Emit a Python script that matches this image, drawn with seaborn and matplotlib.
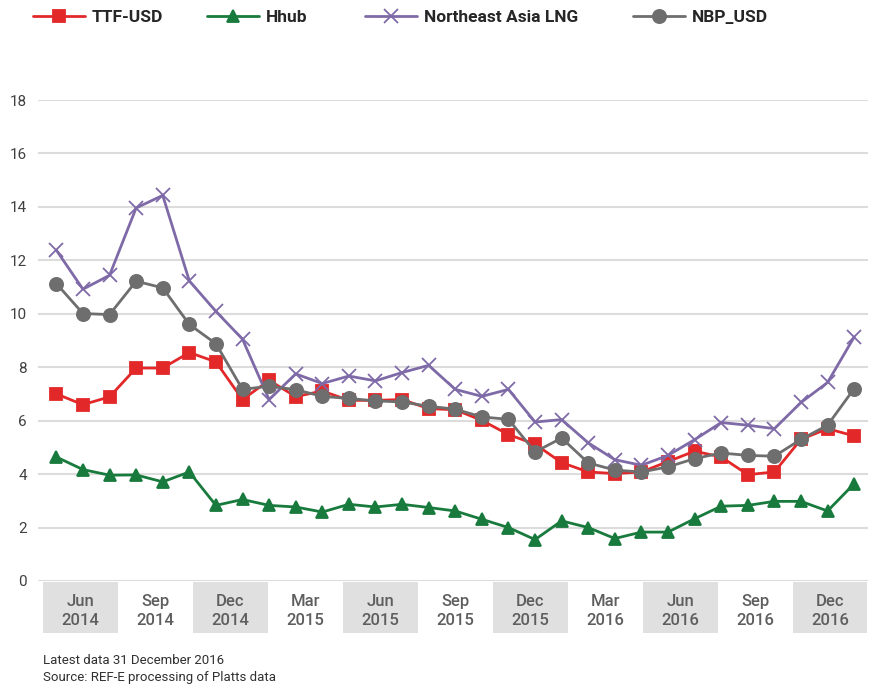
import pandas as pd
import seaborn as sns
import matplotlib.pyplot as plt
from matplotlib.patches import Rectangle
from matplotlib.transforms import blended_transform_factory

months = pd.date_range("2014-06-01", "2016-12-01", freq="MS")
ttf = [7.0, 6.6, 6.89, 7.97, 7.97, 8.55, 8.2, 6.79, 7.51, 6.9, 7.11, 6.76, 6.76, 6.79, 6.45,
       6.41, 6.01, 5.48, 5.12, 4.43, 4.08, 4.02, 4.08, 4.47, 4.86, 4.64, 3.98, 4.08, 5.3, 5.7, 5.43]
hhub = [4.64, 4.17, 3.96, 3.97, 3.71, 4.08, 2.83, 3.05, 2.83, 2.77, 2.58, 2.87, 2.77, 2.87, 2.75,
        2.62, 2.31, 2.0, 1.55, 2.25, 2.0, 1.59, 1.83, 1.83, 2.33, 2.8, 2.83, 2.98, 2.98, 2.62, 3.64]
nea = [12.38, 10.92, 11.44, 13.96, 14.43, 11.23, 10.09, 9.05, 6.79, 7.75, 7.39, 7.67, 7.49, 7.8, 8.07,
       7.17, 6.91, 7.17, 5.95, 6.04, 5.17, 4.54, 4.33, 4.7, 5.29, 5.93, 5.83, 5.7, 6.68, 7.43, 9.13]
nbp = [11.13, 10.01, 9.97, 11.22, 10.97, 9.6, 8.88, 7.17, 7.29, 7.16, 6.91, 6.83, 6.74, 6.7, 6.54,
       6.43, 6.14, 6.05, 4.83, 5.35, 4.42, 4.15, 4.08, 4.27, 4.58, 4.79, 4.7, 4.67, 5.3, 5.83, 7.2]
quarter_labels = ["Jun\n2014", "Sep\n2014", "Dec\n2014", "Mar\n2015", "Jun\n2015", "Sep\n2015",
                  "Dec\n2015", "Mar\n2016", "Jun\n2016", "Sep\n2016", "Dec\n2016"]

series = {"TTF-USD": ttf, "Hhub": hhub, "Northeast Asia LNG": nea, "NBP_USD": nbp}
colors = {"TTF-USD": "#e3282a", "Hhub": "#187a3c", "Northeast Asia LNG": "#7f6aa8", "NBP_USD": "#6e6e6e"}
markers = {"TTF-USD": "s", "Hhub": "^", "Northeast Asia LNG": "x", "NBP_USD": "o"}
msizes = {"TTF-USD": 8, "Hhub": 9, "Northeast Asia LNG": 10, "NBP_USD": 9.5}
legend_x = {"TTF-USD": 33, "Hhub": 207, "Northeast Asia LNG": 365, "NBP_USD": 633}

sns.set_theme(style="white")
plt.rcParams["font.family"] = ["Roboto", "DejaVu Sans"]

fig = plt.figure(figsize=(8.72, 6.86), dpi=100)
ax = fig.add_axes([38 / 872, 105 / 686, 830 / 872, 481 / 686])

for name, vals in series.items():
    df = pd.DataFrame({"idx": range(len(months)), "value": vals})
    sns.lineplot(data=df, x="idx", y="value", ax=ax, color=colors[name], label=name,
                 marker=markers[name], markersize=msizes[name], linewidth=2,
                 markeredgecolor=colors[name], markeredgewidth=1.3)

n = len(months)
ax.set_xlim(-0.69, n - 1 + 0.52)
ax.set_ylim(0, 18)
ax.set_yticks(range(0, 19, 2))
ax.set_xticks([])
ax.set_xlabel("")
ax.set_ylabel("")
for s in ax.spines.values():
    s.set_visible(False)
ax.yaxis.grid(True, color="#dcdcdc", linewidth=1.5)
ax.tick_params(axis="y", length=0, pad=8, labelsize=11, labelcolor="#404040")
ax.set_axisbelow(True)

# quarter bands under the axis
trans = blended_transform_factory(ax.transData, ax.transAxes)
width = n / len(quarter_labels)
for i, lab in enumerate(quarter_labels):
    x0 = -0.5 + i * width
    if i % 2 == 0:
        ax.add_patch(Rectangle((x0, -0.108), width, 0.105, transform=trans,
                               facecolor="#e0e0e0", edgecolor="none", clip_on=False))
    ax.text(x0 + width / 2, -0.062, lab, transform=trans, ha="center", va="center",
            fontsize=12, fontweight="medium", color="#5e5e5e", linespacing=1.35)

# one legend per entry, placed like the original
handles, labels = ax.get_legend_handles_labels()
ax.get_legend().remove()
for h, lab in zip(handles, labels):
    fig.legend([h], [lab], loc="center left", bbox_to_anchor=(legend_x[lab] / 872, 0.974),
               frameon=False, handlelength=3.0, handletextpad=0.4, borderpad=0,
               borderaxespad=0, prop={"weight": "bold", "size": 12.5})

fig.text(43 / 872, 1 - 660 / 686, "Latest data 31 December 2016", fontsize=9.5,
         color="#303030", va="center")
fig.text(43 / 872, 1 - 677 / 686, "Source: REF-E processing of Platts data", fontsize=9.5,
         color="#303030", va="center")

fig.savefig("out.png", dpi=100)
